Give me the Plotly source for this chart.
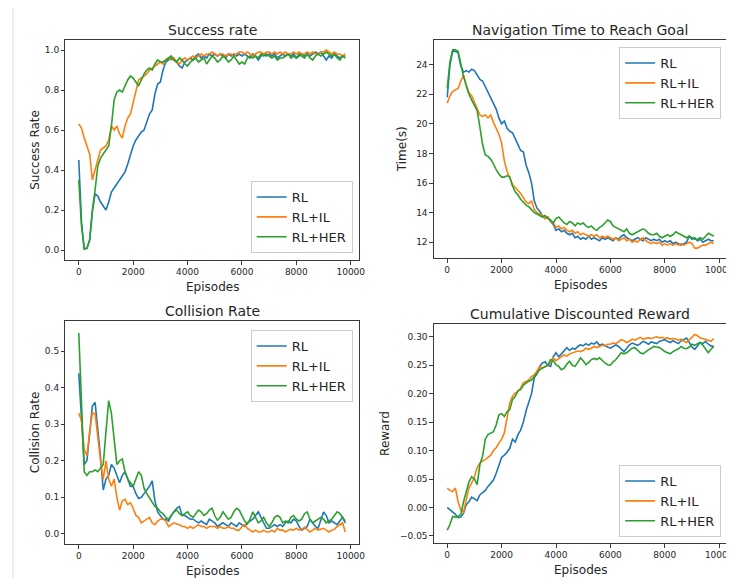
import plotly.graph_objects as go

episodes = list(range(0, 9900, 100))
series_names = ["RL", "RL+IL", "RL+HER"]
colors = ["#1f77b4", "#ff7f0e", "#2ca02c"]
x_ticks = [0, 2000, 4000, 6000, 8000, 10000]
x_tick_labels = ["0", "2000", "4000", "6000", "8000", "10000"]

success_rl = [
    0.45, 0.14, 0.006, 0.009, 0.05, 0.19, 0.28, 0.27, 0.24, 0.22,
    0.20, 0.24, 0.29, 0.31, 0.33, 0.35, 0.37, 0.39, 0.43, 0.48,
    0.52, 0.55, 0.57, 0.59, 0.60, 0.64, 0.68, 0.70, 0.78, 0.83,
    0.84, 0.90, 0.94, 0.95, 0.96, 0.95, 0.94, 0.92, 0.91, 0.94,
    0.95, 0.96, 0.95, 0.97, 0.98, 0.96, 0.97, 0.96, 0.98, 0.97,
    0.98, 0.97, 0.98, 0.97, 0.96, 0.98, 0.97, 0.98, 0.97, 0.98,
    0.97, 0.98, 0.97, 0.96, 0.98, 0.97, 0.95, 0.97, 0.98, 0.97,
    0.98, 0.97, 0.98, 0.96, 0.97, 0.98, 0.97, 0.98, 0.97, 0.98,
    0.96, 0.97, 0.98, 0.97, 0.98, 0.97, 0.98, 0.99, 0.98, 0.99,
    0.97, 0.95, 0.97, 0.96, 0.98, 0.97, 0.96, 0.97, 0.97]
success_il = [
    0.63, 0.61, 0.56, 0.52, 0.48, 0.35, 0.40, 0.46, 0.50, 0.51,
    0.52, 0.55, 0.62, 0.60, 0.62, 0.58, 0.56, 0.62, 0.66, 0.68,
    0.74, 0.80, 0.85, 0.86, 0.87, 0.88, 0.90, 0.91, 0.92, 0.93,
    0.94, 0.93, 0.95, 0.96, 0.95, 0.96, 0.94, 0.93, 0.95, 0.96,
    0.95, 0.96, 0.97, 0.96, 0.97, 0.98, 0.97, 0.98, 0.98, 0.99,
    0.98, 0.97, 0.98, 0.98, 0.97, 0.98, 0.98, 0.97, 0.98, 0.99,
    0.99, 0.98, 0.99, 0.98, 0.97, 0.98, 0.99, 0.99, 0.98, 0.99,
    0.99, 0.98, 0.99, 0.98, 0.99, 0.98, 0.99, 0.98, 0.98, 0.99,
    0.98, 0.99, 0.98, 0.98, 0.99, 0.98, 0.99, 0.98, 0.98, 0.99,
    0.99, 1.00, 0.99, 0.98, 0.99, 0.98, 0.98, 0.97, 0.98]
success_her = [
    0.35, 0.12, 0.005, 0.008, 0.05, 0.20, 0.30, 0.42, 0.46, 0.48,
    0.50, 0.52, 0.62, 0.75, 0.79, 0.80, 0.79, 0.82, 0.85, 0.87,
    0.86, 0.84, 0.82, 0.85, 0.88, 0.90, 0.91, 0.90, 0.93, 0.95,
    0.94, 0.94, 0.95, 0.96, 0.97, 0.95, 0.94, 0.96, 0.95, 0.93,
    0.92, 0.94, 0.95, 0.96, 0.94, 0.95, 0.96, 0.93, 0.95, 0.97,
    0.96, 0.94, 0.95, 0.97, 0.96, 0.94, 0.95, 0.97, 0.95, 0.93,
    0.94, 0.93, 0.96, 0.97, 0.96, 0.97, 0.96, 0.98, 0.97, 0.98,
    0.97, 0.96, 0.97, 0.95, 0.96, 0.96, 0.97, 0.98, 0.96, 0.97,
    0.96, 0.98, 0.97, 0.96, 0.98, 0.96, 0.95, 0.97, 0.98, 0.97,
    0.98, 0.99, 0.98, 0.97, 0.98, 0.96, 0.95, 0.97, 0.96]

time_rl = [
    21.8, 24.0, 24.9, 24.9, 24.8, 23.9, 23.5, 23.6, 23.5, 23.7,
    23.6, 23.3, 23.0, 22.9, 22.5, 22.2, 21.8, 21.4, 21.0, 20.4,
    20.0, 20.2, 19.7, 19.5, 19.4, 19.0, 18.6, 18.2, 18.1, 17.2,
    16.7, 16.0, 14.8, 14.3, 14.1, 13.8, 13.6, 13.7, 13.4, 13.2,
    12.8, 12.9, 12.7, 12.8, 12.6, 12.5, 12.6, 12.3, 12.4, 12.2,
    12.3, 12.2, 12.4, 12.2, 12.3, 12.2, 12.1, 12.3, 12.2, 12.3,
    12.2, 12.1, 12.3, 12.2, 12.4, 12.5, 12.3, 12.2, 12.1, 12.2,
    12.3, 12.2, 12.1, 12.3, 12.2, 12.1, 12.2, 12.1, 12.2, 12.0,
    12.1, 12.0, 12.1, 11.9, 12.0, 11.9, 11.8, 11.9, 12.0, 12.4,
    12.2, 12.3, 12.1, 12.2, 12.0, 12.1, 12.2, 12.1, 12.1]
time_il = [
    21.4, 21.9, 22.2, 22.3, 22.4, 22.9, 23.3, 22.6, 22.1, 21.9,
    21.5, 21.0, 20.6, 20.5, 20.6, 20.4, 20.6, 20.1, 19.7, 19.3,
    18.7, 17.5, 16.8, 16.4, 15.9, 15.7, 15.5, 15.3, 15.0, 14.7,
    14.6, 14.8, 14.2, 14.0, 13.9, 13.8, 13.6, 13.7, 13.4, 13.3,
    13.0, 13.1, 12.9, 13.0, 12.8, 12.7, 12.8, 12.6, 12.7, 12.5,
    12.6, 12.5, 12.4, 12.5, 12.4, 12.5, 12.3, 12.4, 12.3, 12.4,
    12.3, 12.2, 12.3, 12.1, 12.2, 12.3, 12.1, 12.2, 12.0, 12.1,
    12.0, 12.2, 12.3, 12.1, 12.0, 11.9, 12.0, 11.9, 12.0, 11.8,
    11.9, 11.8, 11.9, 11.8, 11.9, 11.8, 11.9, 11.8, 11.9, 12.0,
    11.9, 11.6, 11.6, 11.7, 11.8, 11.8, 11.9, 12.0, 11.9]
time_her = [
    22.4, 24.2, 25.0, 25.0, 24.9, 24.0, 23.2, 22.6, 22.0, 21.6,
    21.2, 20.9, 19.8, 18.6, 17.9, 17.8, 17.6, 17.3, 16.9, 16.6,
    16.4, 16.4, 16.5, 16.4, 15.8, 15.4, 15.2, 14.9, 14.7, 14.5,
    14.4, 14.2, 14.0, 13.9, 13.8, 13.7, 13.8, 13.6, 13.5, 13.3,
    13.6, 13.7, 13.5, 13.3, 13.2, 13.4, 13.3, 13.1, 13.3, 13.2,
    13.3, 13.1, 13.0, 13.1, 12.9, 12.8, 13.0, 13.1, 13.3, 13.5,
    13.4, 13.1, 13.0, 12.9, 12.8, 12.7, 12.9, 12.6, 12.5, 12.6,
    12.7, 12.8, 12.9, 12.8, 12.6, 12.5, 12.5, 12.6, 12.4, 12.3,
    12.4, 12.5, 12.4, 12.5, 12.7, 12.6, 12.5, 12.4, 12.3, 12.4,
    12.3, 12.2, 12.2, 12.3, 12.2, 12.4, 12.6, 12.5, 12.4]

collision_rl = [
    0.44, 0.30, 0.19, 0.20, 0.28, 0.35, 0.36, 0.29, 0.21, 0.12,
    0.15, 0.16, 0.19, 0.18, 0.16, 0.14, 0.16, 0.17, 0.15, 0.13,
    0.13, 0.11, 0.097, 0.10, 0.11, 0.12, 0.13, 0.145, 0.09, 0.06,
    0.05, 0.04, 0.04, 0.035, 0.05, 0.06, 0.07, 0.075, 0.05, 0.05,
    0.045, 0.04, 0.04, 0.035, 0.03, 0.035, 0.03, 0.025, 0.04, 0.035,
    0.03, 0.02, 0.025, 0.03, 0.025, 0.02, 0.03, 0.025, 0.02, 0.03,
    0.025, 0.02, 0.03, 0.035, 0.04, 0.05, 0.06, 0.045, 0.03, 0.015,
    0.015, 0.02, 0.025, 0.02, 0.025, 0.02, 0.03, 0.035, 0.03, 0.04,
    0.035, 0.02, 0.01, 0.015, 0.02, 0.04, 0.03, 0.02, 0.015, 0.04,
    0.06, 0.05, 0.03, 0.035, 0.03, 0.025, 0.035, 0.045, 0.03]
collision_il = [
    0.33, 0.31, 0.23, 0.215, 0.28, 0.33, 0.33, 0.26, 0.20, 0.15,
    0.20, 0.15, 0.13, 0.15, 0.10, 0.065, 0.09, 0.095, 0.08, 0.085,
    0.07, 0.05, 0.045, 0.03, 0.035, 0.04, 0.045, 0.03, 0.025, 0.035,
    0.04, 0.04, 0.035, 0.02, 0.025, 0.03, 0.027, 0.025, 0.02, 0.02,
    0.015, 0.02, 0.015, 0.02, 0.025, 0.02, 0.02, 0.015, 0.02, 0.02,
    0.02, 0.015, 0.02, 0.015, 0.015, 0.02, 0.015, 0.015, 0.01, 0.01,
    0.02, 0.025, 0.015, 0.01, 0.005, 0.01, 0.005, 0.005, 0.01, 0.005,
    0.005, 0.01, 0.005, 0.015, 0.01, 0.01, 0.005, 0.01, 0.012, 0.01,
    0.015, 0.01, 0.012, 0.018, 0.01, 0.005, 0.01, 0.015, 0.01, 0.012,
    0.015, 0.01, 0.005, 0.01, 0.012, 0.02, 0.025, 0.03, 0.005]
collision_her = [
    0.55, 0.33, 0.17, 0.16, 0.17, 0.17, 0.175, 0.17, 0.18, 0.19,
    0.28, 0.365, 0.33, 0.25, 0.19, 0.20, 0.205, 0.17, 0.15, 0.14,
    0.13, 0.15, 0.17, 0.16, 0.125, 0.11, 0.097, 0.085, 0.075, 0.07,
    0.06, 0.055, 0.045, 0.04, 0.05, 0.06, 0.065, 0.055, 0.05, 0.055,
    0.06, 0.05, 0.045, 0.055, 0.065, 0.06, 0.05, 0.055, 0.065, 0.07,
    0.05, 0.037, 0.045, 0.06, 0.05, 0.04, 0.045, 0.06, 0.07, 0.065,
    0.05, 0.035, 0.027, 0.04, 0.06, 0.045, 0.03, 0.035, 0.045, 0.03,
    0.02, 0.03, 0.045, 0.05, 0.045, 0.03, 0.035, 0.03, 0.045, 0.05,
    0.04, 0.035, 0.04, 0.055, 0.06, 0.04, 0.03, 0.035, 0.04, 0.045,
    0.04, 0.03, 0.035, 0.04, 0.05, 0.06, 0.055, 0.045, 0.035]

reward_rl = [
    0.0, -0.004, -0.007, -0.012, -0.018, -0.017, -0.01, 0.005, 0.01, 0.018,
    0.015, 0.012, 0.022, 0.026, 0.03, 0.037, 0.042, 0.048, 0.06, 0.075,
    0.088, 0.092, 0.097, 0.104, 0.12, 0.115, 0.128, 0.136, 0.15, 0.17,
    0.185, 0.2, 0.228, 0.235, 0.248, 0.254, 0.256, 0.25, 0.248, 0.265,
    0.272, 0.265, 0.27, 0.275, 0.281, 0.276, 0.28, 0.278, 0.283, 0.286,
    0.284, 0.288, 0.285, 0.289, 0.287, 0.291, 0.285, 0.287, 0.284, 0.282,
    0.28, 0.283, 0.286, 0.283, 0.278, 0.274, 0.28, 0.286, 0.289, 0.287,
    0.285, 0.288, 0.292, 0.29, 0.287, 0.291, 0.29, 0.288, 0.292, 0.293,
    0.295, 0.292, 0.29, 0.293, 0.29, 0.288, 0.293, 0.296, 0.298, 0.29,
    0.282, 0.278, 0.285, 0.29, 0.288, 0.292, 0.287, 0.284, 0.283]
reward_il = [
    0.034, 0.03, 0.028, 0.034, 0.01, -0.005, -0.008, 0.013, 0.035, 0.043,
    0.054, 0.07, 0.078, 0.082, 0.084, 0.088, 0.092, 0.1, 0.105, 0.113,
    0.12, 0.131, 0.16, 0.184, 0.195, 0.201, 0.204, 0.21, 0.219, 0.222,
    0.224, 0.23, 0.233, 0.24, 0.248, 0.245, 0.248, 0.25, 0.255, 0.263,
    0.258, 0.262, 0.265, 0.268, 0.266, 0.27, 0.272, 0.274, 0.275, 0.274,
    0.276, 0.28, 0.278, 0.28, 0.283, 0.281, 0.283, 0.285, 0.284, 0.287,
    0.287, 0.289, 0.288, 0.292, 0.295, 0.293, 0.29, 0.292, 0.296, 0.294,
    0.297, 0.299, 0.296, 0.297, 0.298, 0.297, 0.299, 0.30, 0.298, 0.299,
    0.297, 0.298, 0.296, 0.297, 0.296, 0.294, 0.296, 0.292, 0.29, 0.295,
    0.3, 0.304, 0.302, 0.298, 0.297, 0.295, 0.293, 0.292, 0.297]
reward_her = [
    -0.04, -0.03, -0.016, -0.017, -0.016, -0.012, 0.01, 0.03, 0.045, 0.054,
    0.05, 0.04, 0.075, 0.09, 0.12, 0.128, 0.13, 0.133, 0.145, 0.163,
    0.165, 0.16, 0.168, 0.172, 0.19, 0.195, 0.205, 0.207, 0.215, 0.219,
    0.222, 0.224, 0.23, 0.235, 0.242, 0.245, 0.248, 0.25, 0.26, 0.258,
    0.251, 0.248, 0.242, 0.245, 0.252, 0.257, 0.25, 0.248, 0.255, 0.263,
    0.258, 0.251, 0.255, 0.26, 0.262, 0.26, 0.263, 0.258, 0.254, 0.251,
    0.25, 0.256, 0.26, 0.266, 0.272, 0.27, 0.272, 0.276, 0.28, 0.281,
    0.277, 0.272, 0.27, 0.274, 0.277, 0.28, 0.283, 0.282, 0.281, 0.278,
    0.274, 0.272, 0.27, 0.274, 0.276, 0.279, 0.283, 0.28, 0.279, 0.282,
    0.287, 0.285, 0.288, 0.29, 0.285, 0.279, 0.272, 0.278, 0.283]

W, H = 734, 578
FONT = "DejaVu Sans"
TXT = "#262626"
FRAME = "#3a3a3a"

# panel boxes in pixels: (left, right, top, bottom)
panels = [
    dict(box=(58, 354, 32, 252), data=[success_rl, success_il, success_her],
         yr=[-0.05, 1.05], yt=[0, 0.2, 0.4, 0.6, 0.8, 1.0], fmt=".1f",
         title="Success rate", ylabel="Success Rate", ylab_x=27,
         legend=dict(x=348, y=245, xa="right", ya="bottom")),
    dict(box=(430, 726, 32, 250), data=[time_rl, time_il, time_her],
         yr=[10.93, 25.67], yt=[12, 14, 16, 18, 20, 22, 24], fmt="d",
         title="Navigation Time to Reach Goal", ylabel="Time(s)", ylab_x=398,
         legend=dict(x=720, y=39, xa="right", ya="top")),
    dict(box=(58, 354, 313, 536), data=[collision_rl, collision_il, collision_her],
         yr=[-0.028, 0.583], yt=[0, 0.1, 0.2, 0.3, 0.4, 0.5], fmt=".1f",
         title="Collision Rate", ylabel="Collision Rate", ylab_x=27,
         legend=dict(x=348, y=322, xa="right", ya="top")),
    dict(box=(430, 726, 316, 535), data=[reward_rl, reward_il, reward_her],
         yr=[-0.0625, 0.3225], yt=[-0.05, 0, 0.05, 0.10, 0.15, 0.20, 0.25, 0.30], fmt=".2f",
         title="Cumulative Discounted Reward", ylabel="Reward", ylab_x=380,
         legend=dict(x=720, y=529, xa="right", ya="bottom")),
]

fig = go.Figure()
annotations = []
layout = dict(
    width=W, height=H, margin=dict(l=0, r=0, t=0, b=0),
    paper_bgcolor="white", plot_bgcolor="white",
    font=dict(family=FONT, color=TXT),
)

for i, p in enumerate(panels):
    n = "" if i == 0 else str(i + 1)
    l, r, t, b = p["box"]
    leg = "legend" + n
    for k in range(3):
        fig.add_trace(go.Scatter(
            x=episodes, y=p["data"][k], mode="lines", name=series_names[k],
            line=dict(color=colors[k], width=1.6),
            xaxis="x" + n, yaxis="y" + n, legend=leg,
        ))
    layout["xaxis" + n] = dict(
        domain=[l / W, r / W], anchor="y" + n, range=[-490, 10290],
        tickvals=x_ticks, ticktext=x_tick_labels,
        showgrid=False, zeroline=False, showline=True, mirror=True,
        linecolor=FRAME, linewidth=1, ticks="outside", ticklen=3.5,
        tickwidth=0.8, tickcolor=FRAME, tickfont=dict(size=9, color=TXT),
    )
    layout["yaxis" + n] = dict(
        domain=[1 - b / H, 1 - t / H], anchor="x" + n, range=p["yr"],
        tickvals=p["yt"], tickformat=p["fmt"],
        showgrid=False, zeroline=False, showline=True, mirror=True,
        linecolor=FRAME, linewidth=1, ticks="outside", ticklen=3.5,
        tickwidth=0.8, tickcolor=FRAME, tickfont=dict(size=9, color=TXT),
    )
    lg = p["legend"]
    layout[leg] = dict(
        x=lg["x"] / W, y=1 - lg["y"] / H, xanchor=lg["xa"], yanchor=lg["ya"],
        xref="paper", yref="paper",
        bgcolor="rgba(255,255,255,0.8)", bordercolor="#cccccc", borderwidth=1,
        font=dict(size=13, family=FONT, color=TXT),
        itemwidth=30, tracegroupgap=0,
    )
    cx = (l + r) / 2
    annotations.append(dict(
        text=p["title"], x=cx / W, y=1 - (t - 10) / H, xref="paper", yref="paper",
        xanchor="center", yanchor="middle", showarrow=False,
        font=dict(size=14, family=FONT, color=TXT)))
    annotations.append(dict(
        text="Episodes", x=cx / W, y=1 - (b + 27) / H, xref="paper", yref="paper",
        xanchor="center", yanchor="middle", showarrow=False,
        font=dict(size=12, family=FONT, color=TXT)))
    annotations.append(dict(
        text=p["ylabel"], x=p["ylab_x"] / W, y=1 - ((t + b) / 2) / H,
        xref="paper", yref="paper", xanchor="center", yanchor="middle",
        textangle=-90, showarrow=False,
        font=dict(size=12, family=FONT, color=TXT)))

layout["annotations"] = annotations
layout["shapes"] = [dict(type="line", xref="paper", yref="paper",
                         x0=5 / W, x1=5 / W, y0=0, y1=1,
                         line=dict(color="#dddddd", width=1))]
fig.update_layout(**layout)
fig.write_html("out.html")
